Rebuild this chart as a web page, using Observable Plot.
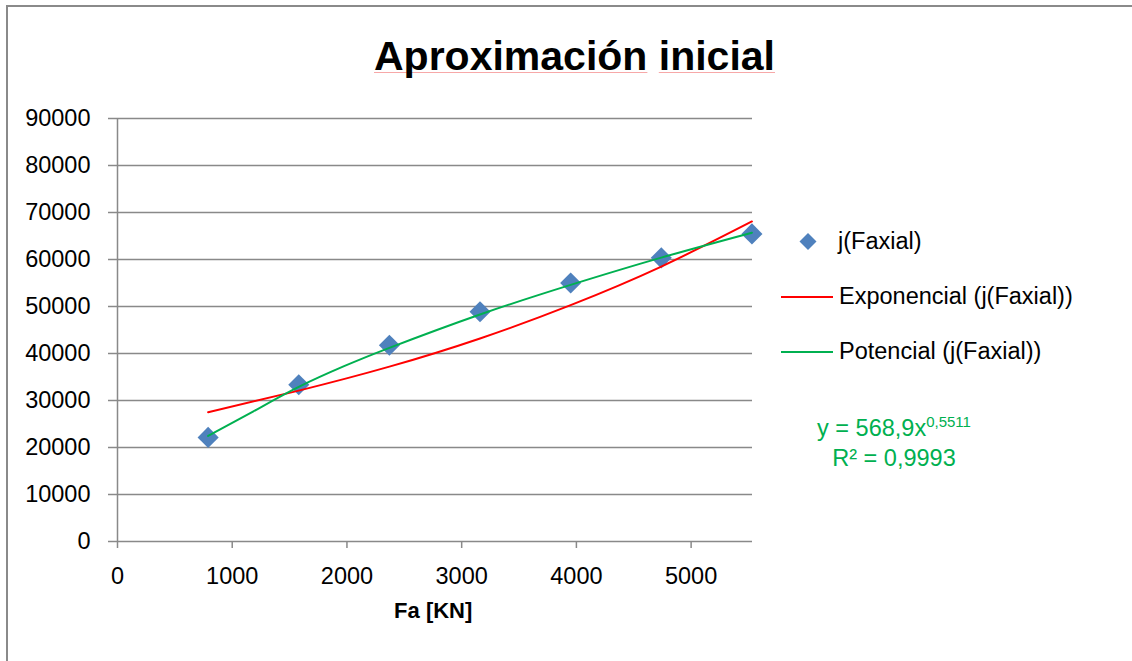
<!DOCTYPE html>
<html>
<head>
<meta charset="utf-8">
<script src="https://cdn.jsdelivr.net/npm/d3@7"></script>
<script src="https://cdn.jsdelivr.net/npm/@observablehq/plot@0.6"></script>
<style>
  html, body { margin: 0; padding: 0; background: #fff; }
  body { width: 1132px; height: 661px; overflow: hidden; position: relative; font-family: "Liberation Sans", Arial, sans-serif; }
  #frame { position: absolute; left: 6px; top: 5px; width: 1200px; height: 700px; border-left: 2px solid #8a8a8a; border-top: 2px solid #8a8a8a; }
  #chart { position: absolute; left: 0; top: 0; }
  #overlay { position: absolute; left: 0; top: 0; pointer-events: none; z-index: 2; }
</style>
</head>
<body>
<div id="frame"></div>
<div id="chart"></div>
<svg id="overlay" width="1132" height="661" font-family="Liberation Sans, Arial, sans-serif" font-size="23.5">
  <g id="underlines"></g>
  <text id="title" x="574.5" y="70" text-anchor="middle" font-size="41" font-weight="700" fill="#000">Aproximación inicial</text>
  <path d="M808,233 L816.5,241.5 L808,250 L799.5,241.5 Z" fill="#4f81bd"/>
  <text x="838" y="249" fill="#000">j(Faxial)</text>
  <line x1="781" x2="833" y1="297" y2="297" stroke="#ff0000" stroke-width="2"/>
  <text x="839" y="304" fill="#000">Exponencial (j(Faxial))</text>
  <line x1="781" x2="833" y1="352" y2="352" stroke="#00b050" stroke-width="2"/>
  <text x="839" y="359" fill="#000">Potencial (j(Faxial))</text>
  <text x="894" y="436" text-anchor="middle" fill="#00b050">y = 568,9x<tspan dy="-9" font-size="15">0,5511</tspan></text>
  <text x="894" y="466" text-anchor="middle" fill="#00b050">R² = 0,9993</text>
</svg>
<script>
// Data points: j(Faxial) vs Fa [KN]
const faxial = [790, 1580, 2370, 3160, 3950, 4740, 5530];
const jFaxial = [22150, 33350, 41750, 48900, 55000, 60350, 65450];

// Exponential trend line
const expX = [790, 1580, 2370, 3160, 3950, 4740, 5530];
const expY = [27500, 32100, 37200, 43200, 50300, 58500, 68100];

// Power trend line
const powX = [790, 1185, 1580, 1975, 2370, 3160, 3950, 4740, 5530];
const powY = [22450, 27700, 32900, 37300, 41200, 48300, 54600, 60400, 65700];

// Axis ticks
const xTicks = [0, 1000, 2000, 3000, 4000, 5000];
const yTicks = [0, 10000, 20000, 30000, 40000, 50000, 60000, 70000, 80000, 90000];

const points = faxial.map((x, i) => ({x, y: jFaxial[i]}));
const expLine = expX.map((x, i) => ({x, y: expY[i]}));
const powLine = powX.map((x, i) => ({x, y: powY[i]}));

const gray = "#898989";

const chart = Plot.plot({
  width: 1132,
  height: 661,
  marginLeft: 117,
  marginRight: 380,
  marginTop: 118,
  marginBottom: 120,
  style: { fontFamily: "Liberation Sans, Arial, sans-serif", fontSize: "23.5px", color: "#000", background: "transparent", overflow: "visible" },
  x: { domain: [0, 5535] },
  y: { domain: [0, 90000] },
  marks: [
    Plot.gridY(yTicks, { stroke: gray, strokeOpacity: 1, strokeWidth: 1.5 }),
    Plot.ruleX([0], { y1: 0, y2: 90000, stroke: gray, strokeWidth: 1.5 }),
    Plot.axisY({ ticks: yTicks, tickSize: 9, tickPadding: 18, stroke: gray, strokeWidth: 1.5, tickFormat: d => String(d), label: null }),
    Plot.axisX({ ticks: xTicks, tickSize: 7, tickPadding: 19, stroke: gray, strokeWidth: 1.5, tickFormat: d => String(d), label: null }),
    Plot.text(["Fa [KN]"], { x: 2752, frameAnchor: "bottom", dy: 76, fontWeight: "bold", fontSize: 22, fill: "#000" }),
    Plot.dot(points, { x: "x", y: "y", symbol: "diamond2", r: 9.5, fill: "#4f81bd", stroke: "none" }),
    Plot.line(expLine, { x: "x", y: "y", stroke: "#ff0000", strokeWidth: 2, curve: "natural" }),
    Plot.line(powLine, { x: "x", y: "y", stroke: "#00b050", strokeWidth: 2, curve: "natural" })
  ]
});
document.getElementById("chart").appendChild(chart);

// faint spell-check style underline under each title word
const t = document.getElementById("title");
const ul = document.getElementById("underlines");
const total = t.getComputedTextLength();
const start = 574.5 - total / 2;
const words = [[0, 12], [13, 7]];
words.forEach(([i, n]) => {
  const x0 = start + (i ? t.getSubStringLength(0, i) : 0);
  const w = t.getSubStringLength(i, n);
  const ln = document.createElementNS("http://www.w3.org/2000/svg", "line");
  ln.setAttribute("x1", x0);
  ln.setAttribute("x2", x0 + w);
  ln.setAttribute("y1", 72.5);
  ln.setAttribute("y2", 72.5);
  ln.setAttribute("stroke", "#f7a8a8");
  ln.setAttribute("stroke-width", 1);
  ul.appendChild(ln);
});
</script>
</body>
</html>
